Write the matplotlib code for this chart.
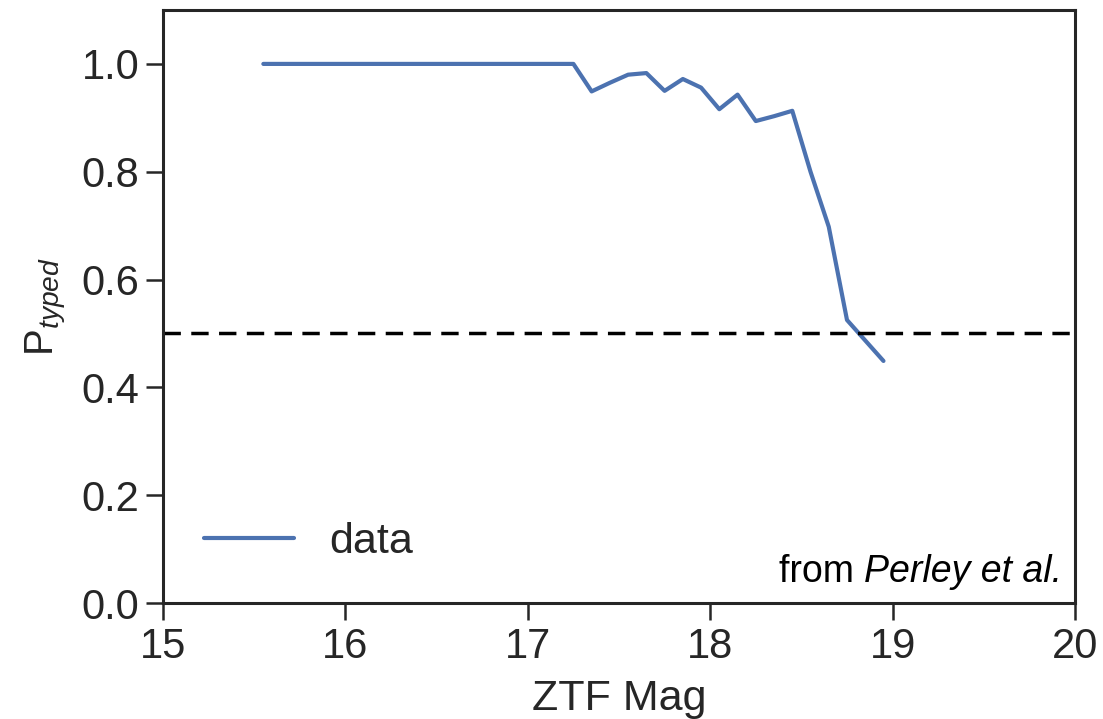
import matplotlib
matplotlib.use("Agg")
import matplotlib.pyplot as plt
import seaborn as sns

# typed fraction vs. magnitude (Perley et al.)
mag = [15.55, 17.25, 17.35, 17.45, 17.55, 17.65, 17.75, 17.85, 17.95, 18.05,
       18.15, 18.25, 18.35, 18.45, 18.55, 18.65, 18.75, 18.85, 18.95]
p_typed = [1.0, 1.0, 0.949, 0.965, 0.980, 0.983, 0.950, 0.972, 0.956, 0.916,
           0.943, 0.894, 0.903, 0.913, 0.80, 0.698, 0.525, 0.487, 0.449]
threshold = 0.5
xticks = [15, 16, 17, 18, 19, 20]
yticks = [0.0, 0.2, 0.4, 0.6, 0.8, 1.0]

sns.set_theme(style="ticks")
plt.rcParams["font.family"] = ["Liberation Sans", "DejaVu Sans"]
plt.rcParams["mathtext.fontset"] = "custom"
plt.rcParams["mathtext.rm"] = "Liberation Sans"
plt.rcParams["mathtext.it"] = "Liberation Sans:italic"

fig = plt.figure(figsize=(11.03, 7.19), dpi=100)
ax = fig.add_axes([0.1478, 0.1613, 0.8268, 0.8248])

ax.plot(mag, p_typed, color="#4c72b0", lw=3, label="data")
ax.axhline(threshold, color="black", ls="--", lw=2.5, dashes=(5, 3))

ax.set_xlim(15, 20)
ax.set_ylim(0, 1.1)
ax.set_xticks(xticks)
ax.set_yticks(yticks)
ax.set_yticklabels([f"{v:.1f}" for v in yticks])
ax.tick_params(labelsize=30, length=12, width=1.8, colors="#262626", pad=5)
for sp in ax.spines.values():
    sp.set_linewidth(2.2)
    sp.set_color("#262626")

ax.set_xlabel("ZTF Mag", fontsize=31, color="#262626", labelpad=9)
ax.set_ylabel("P$_{typed}$", fontsize=29, color="#262626", labelpad=10)

ax.legend(loc="lower left", fontsize=31, frameon=False, handlelength=2.1,
          handletextpad=0.8, borderaxespad=0.45, borderpad=0.5)

# source note: plain "from", italic author
src = ax.text(0.986, 0.022, "Perley et al.", style="italic", transform=ax.transAxes,
              ha="right", va="bottom", fontsize=27, color="black")
ax.annotate("from ", xy=(0, 0), xycoords=src, ha="right", va="bottom",
            fontsize=27, color="black")

fig.savefig("out.png", dpi=100)
